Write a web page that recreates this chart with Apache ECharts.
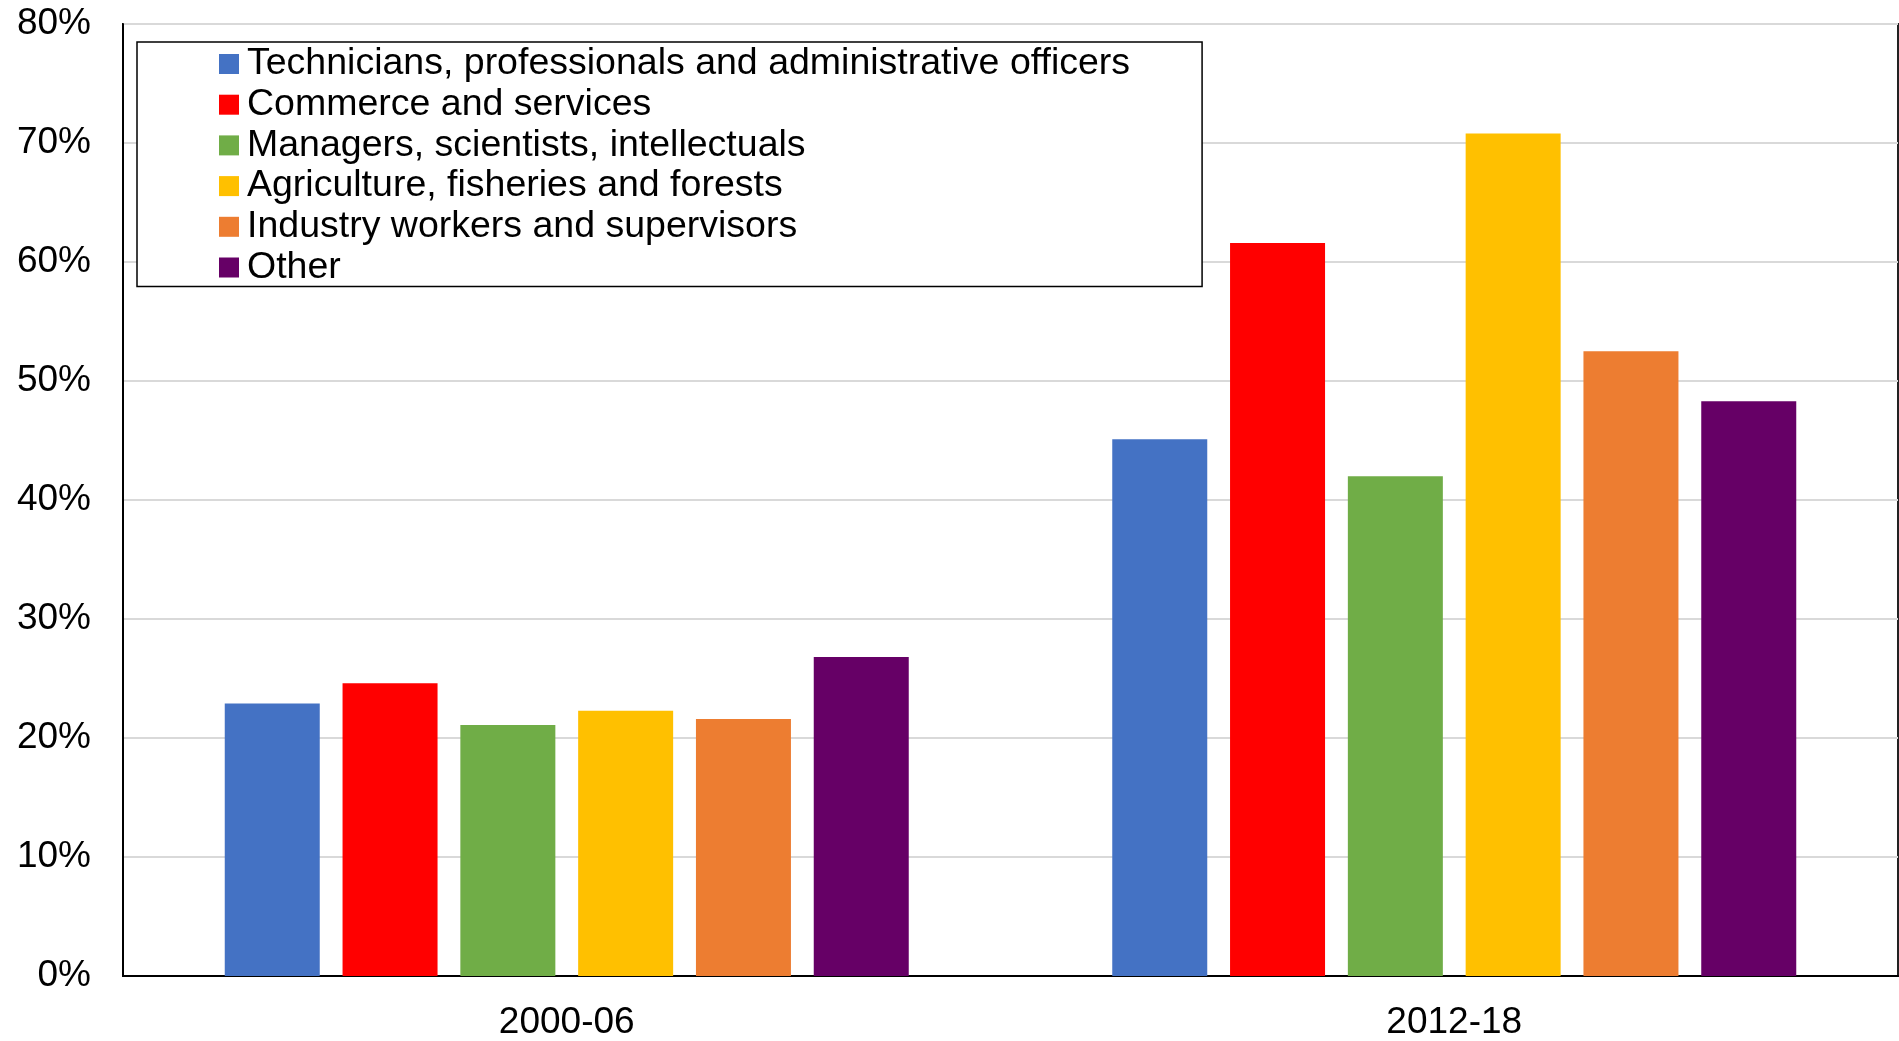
<!DOCTYPE html>
<html>
<head>
<meta charset="utf-8">
<script src="https://cdn.jsdelivr.net/npm/echarts@6/dist/echarts.min.js"></script>
<style>
  html, body { margin: 0; padding: 0; background: #fff; }
  #chart { width: 1899px; height: 1041px; }
</style>
</head>
<body>
<div id="chart"></div>
<script>
const categories = ['2000-06', '2012-18'];
const seriesNames = [
  'Technicians, professionals and administrative officers',
  'Commerce and services',
  'Managers, scientists, intellectuals',
  'Agriculture, fisheries and forests',
  'Industry workers and supervisors',
  'Other'
];
const technicians = [22.9, 45.1];
const commerce = [24.6, 61.6];
const managers = [21.1, 42.0];
const agriculture = [22.3, 70.8];
const industry = [21.6, 52.5];
const other = [26.8, 48.3];
const yTicks = [0, 10, 20, 30, 40, 50, 60, 70, 80];
const colors = ['#4472C4', '#FF0000', '#70AD47', '#FFC000', '#ED7D31', '#660066'];

const seriesValues = [technicians, commerce, managers, agriculture, industry, other];
const font = 'Liberation Sans, Arial, sans-serif';

const chart = echarts.init(document.getElementById('chart'), null, { renderer: 'canvas' });
chart.setOption({
  animation: false,
  backgroundColor: '#fff',
  color: colors,
  grid: {
    left: 123, top: 24, right: 1, bottom: 64,
    show: true, borderColor: '#222', borderWidth: 2, backgroundColor: 'transparent',
    containLabel: false
  },
  legend: {
    left: 137, top: 42,
    orient: 'vertical',
    icon: 'rect',
    itemWidth: 20, itemHeight: 20,
    itemGap: 2.7,
    padding: [3, 72, 0, 82],
    borderColor: '#000', borderWidth: 1.5,
    backgroundColor: '#fff',
    textStyle: { fontFamily: font, fontSize: 37.5, color: '#000', padding: [0, 0, 0, 3] },
    data: seriesNames
  },
  xAxis: {
    type: 'category',
    data: categories,
    axisLine: { show: true, lineStyle: { color: '#000', width: 2 } },
    axisTick: { show: false },
    axisLabel: { fontFamily: font, fontSize: 37, color: '#000', margin: 28 },
    splitLine: { show: false }
  },
  yAxis: {
    type: 'value',
    min: 0, max: 80, interval: 10,
    axisLine: { show: true, lineStyle: { color: '#000', width: 2 } },
    axisTick: { show: false },
    axisLabel: { fontFamily: font, fontSize: 37, color: '#000', margin: 32, formatter: '{value}%' },
    splitLine: { show: true, lineStyle: { color: '#d9d9d9', width: 2 } }
  },
  series: seriesNames.map((name, i) => ({
    name: name,
    type: 'bar',
    data: seriesValues[i],
    barWidth: 95,
    barGap: '24%',
    itemStyle: { color: colors[i] }
  }))
});
</script>
</body>
</html>
